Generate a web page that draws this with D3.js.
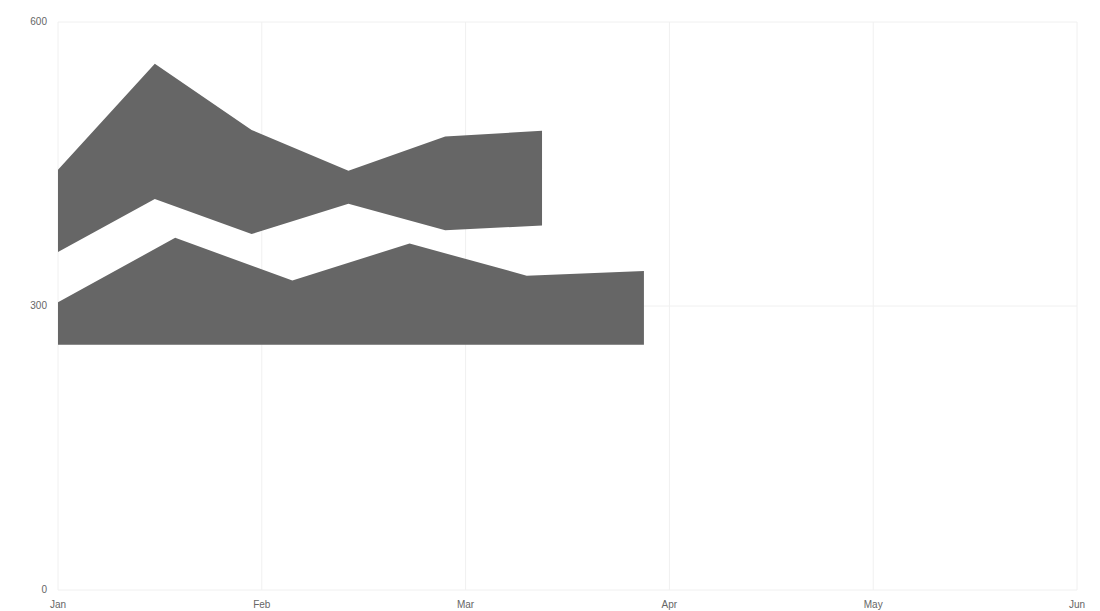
<!DOCTYPE html>
<html>
<head>
<meta charset="utf-8">
<script src="https://cdn.jsdelivr.net/npm/d3@7"></script>
<style>
  body { margin: 0; background: #fff; }
  text { font-family: "Liberation Sans", Arial, sans-serif; }
</style>
</head>
<body>
<div id="chart"></div>
<script>
// month labels on the x axis (positions are month index 0..5)
const months = ["Jan", "Feb", "Mar", "Apr", "May", "Jun"]
const yTicks = [0, 300, 600]

// series A: x in months, low / high values
const aX = [0, 0.475, 0.95, 1.425, 1.9, 2.375]
const aLow = [357, 413, 376, 408, 380, 385]
const aHigh = [444, 556, 486, 443, 479, 485]

// series B
const bX = [0, 0.575, 1.15, 1.725, 2.3, 2.875]
const bLow = [259, 259, 259, 259, 259, 259]
const bHigh = [304, 372, 327, 366, 332, 337]

const width = 1100, height = 611
const margin = { top: 22, right: 23, bottom: 21, left: 58 }

const svg = d3.select("#chart").append("svg").attr("width", width).attr("height", height)

const x = d3.scaleLinear().domain([0, months.length - 1]).range([margin.left, width - margin.right])
const y = d3.scaleLinear().domain([0, 600]).range([height - margin.bottom, margin.top])

// grid
const grid = svg.append("g")
grid.selectAll("line.v").data(months).enter().append("line")
  .attr("x1", (d, i) => x(i)).attr("x2", (d, i) => x(i))
  .attr("y1", y(600)).attr("y2", y(0))
  .attr("stroke", "#f0f0f0").attr("stroke-width", 1)
grid.selectAll("line.h").data(yTicks).enter().append("line")
  .attr("x1", x(0)).attr("x2", x(months.length - 1))
  .attr("y1", d => y(d)).attr("y2", d => y(d))
  .attr("stroke", "#f0f0f0").attr("stroke-width", 1)

// areas
const area = d3.area().x(d => x(d.x)).y0(d => y(d.lo)).y1(d => y(d.hi))

const seriesA = aX.map((v, i) => ({ x: v, lo: aLow[i], hi: aHigh[i] }))
const seriesB = bX.map((v, i) => ({ x: v, lo: bLow[i], hi: bHigh[i] }))

svg.append("path").datum(seriesA).attr("d", area).attr("fill", "#666666")
svg.append("path").datum(seriesB).attr("d", area).attr("fill", "#666666")

// y labels
svg.selectAll("text.y").data(yTicks).enter().append("text")
  .attr("x", margin.left - 11).attr("y", d => y(d) + 3)
  .attr("text-anchor", "end").attr("font-size", 10).attr("fill", "#666")
  .text(d => d)

// x labels
svg.selectAll("text.x").data(months).enter().append("text")
  .attr("x", (d, i) => x(i)).attr("y", y(0) + 18)
  .attr("text-anchor", "middle").attr("font-size", 10).attr("fill", "#666")
  .text(d => d)
</script>
</body>
</html>
